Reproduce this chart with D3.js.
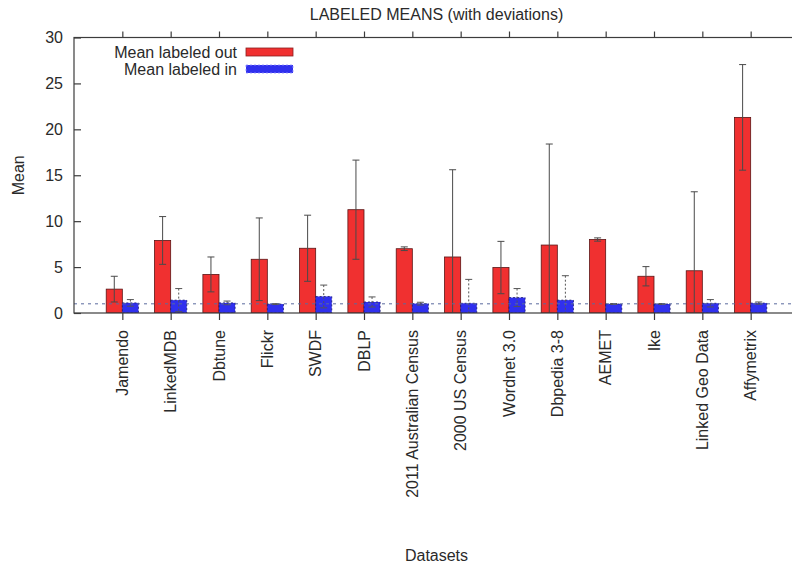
<!DOCTYPE html>
<html>
<head>
<meta charset="utf-8">
<script src="https://cdn.jsdelivr.net/npm/d3@7"></script>
<style>
  html, body { margin: 0; padding: 0; background: #fff; }
  svg { display: block; font-family: "Liberation Sans", Arial, Helvetica, sans-serif; }
</style>
</head>
<body>
<svg id="chart" width="792" height="566"></svg>
<script>
// Datasets and their labeled-out / labeled-in means with standard deviations
const categories = ["Jamendo", "LinkedMDB", "Dbtune", "Flickr", "SWDF", "DBLP",
  "2011 Australian Census", "2000 US Census", "Wordnet 3.0", "Dbpedia 3-8",
  "AEMET", "Ike", "Linked Geo Data", "Affymetrix"];
const outMean = [2.6, 7.9, 4.2, 5.85, 7.05, 11.25, 7.0, 6.1, 4.95, 7.4, 8.0, 4.0, 4.6, 21.3];
const outDev  = [1.4, 2.6, 1.9, 4.5, 3.6, 5.4, 0.2, 9.5, 2.85, 11.0, 0.18, 1.05, 8.6, 5.75];
const inMean  = [1.1, 1.4, 1.1, 0.97, 1.8, 1.2, 1.02, 1.06, 1.68, 1.4, 0.98, 0.98, 1.06, 1.08];
const inDev   = [0.36, 1.26, 0.2, 0.05, 1.24, 0.55, 0.15, 2.6, 0.98, 2.66, 0.05, 0.05, 0.4, 0.12];
const yTicks  = [0, 5, 10, 15, 20, 25, 30];
const seriesNames = ["Mean labeled out", "Mean labeled in"];
const referenceLevel = 1;

const svg = d3.select("#chart");
const mLeft = 74, mRight = 799, mTop = 37.5, mBottom = 313;
const ink = "#2a2a2a", axisCol = "#3c3c3c";
const red = "#f03030", blue = "#3030ee";

// Index-based x scale: one unit per dataset, padded by one unit on each side
const x = d3.scaleLinear().domain([-1, categories.length]).range([mLeft, mRight]);
const y = d3.scaleLinear().domain([0, 30]).range([mBottom, mTop]);
const barW = (x(1) - x(0)) / 3;

svg.append("defs").append("clipPath").attr("id", "plot")
  .append("rect").attr("x", mLeft).attr("y", mTop).attr("width", mRight - mLeft).attr("height", mBottom - mTop);

const plot = svg.append("g").attr("clip-path", "url(#plot)");

// Labeled-out bars (left of each tick)
plot.selectAll("rect.out").data(categories).join("rect")
  .attr("class", "out")
  .attr("x", (d, i) => x(i) - barW)
  .attr("y", (d, i) => y(outMean[i]))
  .attr("width", barW)
  .attr("height", (d, i) => y(0) - y(outMean[i]))
  .attr("fill", red)
  .attr("stroke", "#5a1515").attr("stroke-width", 0.8);

// Labeled-in bars (right of each tick)
plot.selectAll("rect.in").data(categories).join("rect")
  .attr("class", "in")
  .attr("x", (d, i) => x(i))
  .attr("y", (d, i) => y(inMean[i]))
  .attr("width", barW)
  .attr("height", (d, i) => y(0) - y(inMean[i]))
  .attr("fill", blue)
  .attr("stroke", "#1a1a70").attr("stroke-width", 0.8).attr("stroke-dasharray", "2,2");

// Error bars
function errorBars(cls, mean, dev, offset, color, dash) {
  const g = plot.selectAll("g." + cls).data(categories).join("g").attr("class", cls)
    .attr("stroke", color).attr("stroke-width", 1).attr("fill", "none");
  const cx = i => x(i) + offset;
  g.append("line")
    .attr("x1", (d, i) => cx(i)).attr("x2", (d, i) => cx(i))
    .attr("y1", (d, i) => y(mean[i] + dev[i]))
    .attr("y2", (d, i) => y(Math.max(mean[i] - dev[i], -1)))
    .attr("stroke-dasharray", dash);
  [1, -1].forEach(s => {
    g.append("line")
      .attr("x1", (d, i) => cx(i) - 3.5).attr("x2", (d, i) => cx(i) + 3.5)
      .attr("y1", (d, i) => y(mean[i] + s * dev[i]))
      .attr("y2", (d, i) => y(mean[i] + s * dev[i]));
  });
}
errorBars("errOut", outMean, outDev, -barW / 2, "#4a4a4a", null);
errorBars("errIn", inMean, inDev, barW / 2, "#555", "2,2");

// Reference line at a mean of 1
plot.append("line")
  .attr("x1", mLeft).attr("x2", mRight)
  .attr("y1", y(referenceLevel)).attr("y2", y(referenceLevel))
  .attr("stroke", "#5a6a9e").attr("stroke-width", 1).attr("stroke-dasharray", "3,4");

// Frame
svg.append("rect").attr("x", mLeft).attr("y", mTop).attr("width", mRight - mLeft).attr("height", mBottom - mTop)
  .attr("fill", "none").attr("stroke", axisCol).attr("stroke-width", 1.2);

// Y axis (ticks inward), mirrored on the right
const yAxisL = d3.axisRight(y).tickValues(yTicks).tickSize(7).tickFormat("");
svg.append("g").attr("transform", `translate(${mLeft},0)`).call(yAxisL)
  .call(g => g.select(".domain").remove())
  .call(g => g.selectAll("line").attr("stroke", axisCol).attr("stroke-width", 1.2));
const yAxisR = d3.axisLeft(y).tickValues(yTicks).tickSize(7).tickFormat("");
svg.append("g").attr("transform", `translate(${mRight},0)`).call(yAxisR)
  .call(g => g.select(".domain").remove())
  .call(g => g.selectAll("line").attr("stroke", axisCol).attr("stroke-width", 1.2));

// Y tick labels
svg.append("g").selectAll("text").data(yTicks).join("text")
  .attr("x", 63).attr("y", d => y(d)).attr("dy", "0.36em")
  .attr("text-anchor", "end").attr("font-size", 16).attr("fill", ink)
  .text(d => d);

// X axis ticks (outward), mirrored on the top
const idx = d3.range(categories.length);
const xAxisB = d3.axisBottom(x).tickValues(idx).tickSize(7).tickFormat("");
svg.append("g").attr("transform", `translate(0,${mBottom})`).call(xAxisB)
  .call(g => g.select(".domain").remove())
  .call(g => g.selectAll("line").attr("stroke", axisCol).attr("stroke-width", 1.2));
const xAxisT = d3.axisTop(x).tickValues(idx).tickSize(6).tickFormat("");
svg.append("g").attr("transform", `translate(0,${mTop})`).call(xAxisT)
  .call(g => g.select(".domain").remove())
  .call(g => g.selectAll("line").attr("stroke", axisCol).attr("stroke-width", 1.2));

// Rotated dataset names
svg.append("g").selectAll("text").data(categories).join("text")
  .attr("transform", (d, i) => `translate(${x(i)},330) rotate(-90)`)
  .attr("dy", "0.36em").attr("text-anchor", "end")
  .attr("font-size", 16).attr("fill", ink)
  .text(d => d);

// Titles
svg.append("text").attr("x", (mLeft + mRight) / 2).attr("y", 20)
  .attr("text-anchor", "middle").attr("font-size", 16).attr("fill", ink)
  .text("LABELED MEANS (with deviations)");
svg.append("text").attr("x", (mLeft + mRight) / 2).attr("y", 561)
  .attr("text-anchor", "middle").attr("font-size", 16).attr("fill", ink)
  .text("Datasets");
svg.append("text").attr("transform", `translate(24,${(mTop + mBottom) / 2}) rotate(-90)`)
  .attr("text-anchor", "middle").attr("font-size", 16).attr("fill", ink)
  .text("Mean");

// Legend
const legend = svg.append("g");
const legendColors = [red, blue];
seriesNames.forEach((name, k) => {
  const cy = 52 + k * 17;
  legend.append("text").attr("x", 237).attr("y", cy).attr("dy", "0.36em")
    .attr("text-anchor", "end").attr("font-size", 16).attr("fill", ink).text(name);
  legend.append("rect").attr("x", 246).attr("y", cy - 4).attr("width", 47).attr("height", 8)
    .attr("fill", legendColors[k])
    .attr("stroke", k === 0 ? "#8a2020" : "#9090ff").attr("stroke-width", 0.8)
    .attr("stroke-dasharray", k === 0 ? null : "2,2");
});
</script>
</body>
</html>
